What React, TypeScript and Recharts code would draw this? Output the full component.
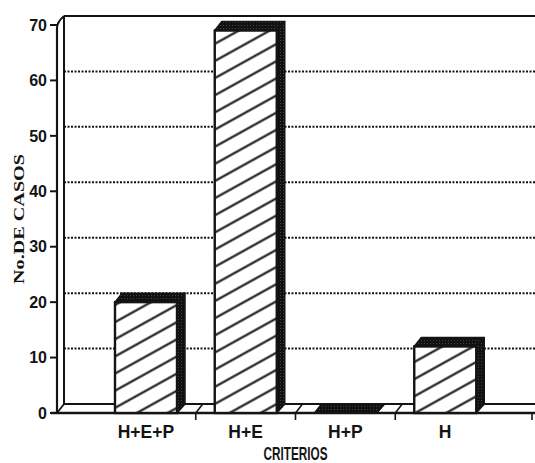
import React from 'react';
import { BarChart, Bar, XAxis, YAxis, CartesianGrid, ReferenceArea, Label } from 'recharts';

const categories = ['H+E+P', 'H+E', 'H+P', 'H'];
const casos = [20, 69, 0, 12];
const yTicks = [0, 10, 20, 30, 40, 50, 60, 70];
const gridValues = [10, 20, 30, 40, 50, 60];
const xTitle = 'CRITERIOS';
const yTitle = 'No.DE CASOS';

const data = categories.map((c, i) => ({ criterio: c, casos: casos[i] }));

const DX = 8;
const DY = -9;
const FDX = 7;
const PAD = 39;
const INK = '#141414';
const SANS = '"Liberation Sans", Arial, sans-serif';

const Bar3D = (props: any) => {
  const { x, y, width, height } = props;
  if (x == null || y == null) return null;
  const h = height || 0;
  const top = `M${x},${y} L${x + DX - 1},${y + DY} L${x + width + DX},${y + DY} L${x + width},${y} Z`;
  const side = `M${x + width},${y} L${x + width + DX},${y + DY} L${x + width + DX},${y + h + DY} L${x + width},${y + h} Z`;
  return (
    <g>
      <path d={side} fill="url(#stip)" stroke={INK} strokeWidth={1.5} strokeLinejoin="round" />
      <path d={top} fill="url(#stip)" stroke={INK} strokeWidth={1.5} strokeLinejoin="round" />
      {h > 0 && (
        <rect x={x} y={y} width={width} height={h} fill="url(#hatch)" stroke={INK} strokeWidth={2.4} />
      )}
    </g>
  );
};

const Frame = (props: any) => {
  const { x, y, width, height } = props;
  if (x == null) return null;
  const n = categories.length;
  const left = x - PAD;
  const right = x + width + PAD;
  const top = y;
  const bottom = y + height;
  const bounds: number[] = [];
  for (let k = 1; k < n; k++) bounds.push(x + (k * width) / n);
  return (
    <g>
      <line x1={left + FDX} y1={bottom + DY} x2={left + FDX} y2={top + DY} stroke={INK} strokeWidth={2} />
      <line x1={left + FDX} y1={top + DY} x2={right + 20} y2={top + DY} stroke={INK} strokeWidth={2} />
      <path d={`M${left},${top + 3} Q${left},${top - 3} ${left + FDX},${top + DY}`} fill="none" stroke={INK} strokeWidth={2} />
      <line x1={left} y1={bottom} x2={left} y2={top + 3} stroke={INK} strokeWidth={2.2} />
      <line x1={left + FDX} y1={bottom + DY} x2={right + 20} y2={bottom + DY} stroke={INK} strokeWidth={1.8} />
      <line x1={left - 6} y1={bottom} x2={right + 20} y2={bottom} stroke={INK} strokeWidth={2.6} />
      <line x1={left} y1={bottom} x2={left + FDX} y2={bottom + DY} stroke={INK} strokeWidth={1.8} />
      {bounds.map((b, i) => (
        <g key={i}>
          <line x1={b} y1={bottom} x2={b + FDX} y2={bottom + DY} stroke={INK} strokeWidth={1.6} />
          <line x1={b} y1={bottom} x2={b} y2={bottom + 7} stroke={INK} strokeWidth={1.6} />
        </g>
      ))}
      <line x1={right - 2} y1={bottom} x2={right - 2} y2={bottom + 7} stroke={INK} strokeWidth={1.6} />
    </g>
  );
};

const GridLine = (p: any) => (
  <line
    key={p.key}
    x1={p.x1 + FDX}
    y1={p.y1 + DY}
    x2={p.x2 + 20}
    y2={p.y2 + DY}
    stroke={INK}
    strokeWidth={2}
    strokeDasharray="2 1.5"
  />
);

const XTick = (p: any) => (
  <text
    x={p.x}
    y={p.y}
    dy={25}
    textAnchor="middle"
    fontFamily={SANS}
    fontWeight={700}
    fontSize={17.5}
    fill={INK}
  >
    {p.payload.value}
  </text>
);

const XTitle = (p: any) => {
  const vb = p.viewBox || {};
  return (
    <text
      x={vb.x + vb.width / 2}
      y={vb.y + 47}
      textAnchor="middle"
      fontFamily={SANS}
      fontWeight={700}
      fontSize={19}
      textLength={64}
      lengthAdjust="spacingAndGlyphs"
      fill={INK}
    >
      {xTitle}
    </text>
  );
};

const YTitle = (p: any) => {
  const vb = p.viewBox || {};
  const cx = 19;
  const cy = vb.y + vb.height / 2;
  return (
    <text
      x={cx}
      y={cy}
      transform={`rotate(-90, ${cx}, ${cy})`}
      textAnchor="middle"
      dominantBaseline="central"
      fontFamily='"Liberation Serif", "Times New Roman", serif'
      fontWeight={700}
      fontSize={15}
      textLength={130}
      lengthAdjust="spacingAndGlyphs"
      fill={INK}
    >
      {yTitle}
    </text>
  );
};

export default function App() {
  return (
    <div style={{ position: 'absolute', left: 0, top: 0, width: 535, height: 463, background: '#fff' }}>
      <svg width={0} height={0} style={{ position: 'absolute' }}>
        <defs>
          <pattern id="hatch" patternUnits="userSpaceOnUse" width={15} height={15} patternTransform="rotate(-29)">
            <rect x={0} y={0} width={15} height={15} fill="#fff" />
            <line x1={-1} y1={7.5} x2={16} y2={7.5} stroke={INK} strokeWidth={2.1} />
          </pattern>
          <pattern id="stip" patternUnits="userSpaceOnUse" width={3} height={3}>
            <rect x={0} y={0} width={3} height={3} fill="#111" />
            <circle cx={1.5} cy={1.5} r={0.45} fill="#777" />
          </pattern>
        </defs>
      </svg>
      <BarChart
        width={535}
        height={463}
        data={data}
        margin={{ top: 25, right: 1, bottom: 0, left: 0 }}
        barSize={62}
      >
        <CartesianGrid vertical={false} horizontal={GridLine} horizontalValues={gridValues} />
        <ReferenceArea
          x1={categories[0]}
          x2={categories[categories.length - 1]}
          y1={0}
          y2={70}
          shape={Frame}
          ifOverflow="visible"
          zIndex={-60}
        />
        <XAxis
          dataKey="criterio"
          padding={{ left: PAD, right: PAD }}
          axisLine={false}
          tickLine={false}
          tickSize={0}
          tickMargin={0}
          tick={XTick}
          height={50}
          interval={0}
        >
          <Label content={XTitle} />
        </XAxis>
        <YAxis
          domain={[0, 70]}
          ticks={yTicks}
          interval={0}
          width={57}
          axisLine={false}
          tickSize={7}
          tickMargin={3}
          tickLine={{ stroke: INK, strokeWidth: 2 }}
          tick={{ fill: INK, fontFamily: SANS, fontWeight: 700, fontSize: 16 }}
        >
          <Label content={YTitle} />
        </YAxis>
        <Bar dataKey="casos" shape={Bar3D} isAnimationActive={false} />
      </BarChart>
    </div>
  );
}
